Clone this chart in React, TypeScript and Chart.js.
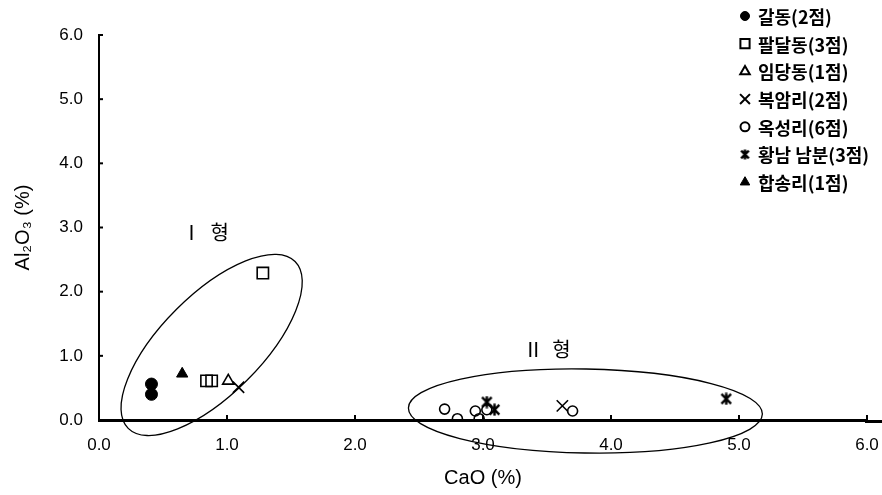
import React, { useEffect, useRef } from 'react';
import { Chart, registerables } from 'chart.js';
import { drawPoint } from 'chart.js/helpers';

Chart.register(...registerables);

// ---------- data ----------
const seriesNames = ['갈동(2점)', '팔달동(3점)', '임당동(1점)', '복암리(2점)', '옥성리(6점)', '황남 남분(3점)', '합송리(1점)'];

const galdongCaO = [0.41, 0.41];
const galdongAl2O3 = [0.56, 0.40];
const paldaldongCaO = [0.84, 0.88, 1.28];
const paldaldongAl2O3 = [0.61, 0.61, 2.29];
const imdangdongCaO = [1.01];
const imdangdongAl2O3 = [0.61];
const bogamriCaO = [1.09, 3.62];
const bogamriAl2O3 = [0.51, 0.22];
const oksungriCaO = [2.70, 2.80, 2.94, 2.97, 3.03, 3.70];
const oksungriAl2O3 = [0.17, 0.02, 0.14, 0.02, 0.16, 0.14];
const hwangnamCaO = [3.03, 3.09, 4.90];
const hwangnamAl2O3 = [0.28, 0.16, 0.33];
const hapsongriCaO = [0.65];
const hapsongriAl2O3 = [0.72];

const xTickValues = [0, 1, 2, 3, 4, 5, 6];
const yTickValues = [0, 1, 2, 3, 4, 5, 6];
const xTitle = 'CaO (%)';
const yTitle = 'Al₂O₃ (%)';

// group annotations (centres in data units)
const groupLabels = ['Ⅰ  형', 'Ⅱ  형'];
const groupLabelCaO = [0.83, 3.5];
const groupLabelAl2O3 = [2.92, 1.1];
const groupEllipseCaO = [0.88, 3.8];
const groupEllipseAl2O3 = [1.17, 0.14];

// ---------- styling ----------
const ellipseStyle = [
  { rx: 118, ry: 50, rot: -45 },
  { rx: 177, ry: 42, rot: 1 },
];

function makeAsterisk(size: number, lw: number) {
  const c = document.createElement('canvas');
  c.width = size;
  c.height = size;
  const g = c.getContext('2d')!;
  g.strokeStyle = '#000';
  g.lineWidth = lw;
  const m = lw / 2 + 0.5;
  g.beginPath();
  g.moveTo(m, m);
  g.lineTo(size - m, size - m);
  g.moveTo(size - m, m);
  g.lineTo(m, size - m);
  g.moveTo(size / 2, 0.5);
  g.lineTo(size / 2, size - 0.5);
  g.stroke();
  return c;
}

const toPts = (xs: number[], ys: number[]) => xs.map((x, i) => ({ x, y: ys[i] }));

export default function App() {
  const ref = useRef<HTMLCanvasElement>(null);

  useEffect(() => {
    const canvas = ref.current!;
    const star = makeAsterisk(13, 2.4);
    const starSmall = makeAsterisk(11, 2.4);

    const markers: any[] = [
      { pointStyle: 'circle', radius: 6, bg: '#000', bw: 1 },
      { pointStyle: 'rect', radius: 8, bg: 'rgba(0,0,0,0)', bw: 1.6 },
      { pointStyle: 'triangle', radius: 6.5, bg: 'rgba(0,0,0,0)', bw: 1.6 },
      { pointStyle: 'crossRot', radius: 8, bg: 'rgba(0,0,0,0)', bw: 1.6 },
      { pointStyle: 'circle', radius: 5, bg: 'rgba(0,0,0,0)', bw: 1.6 },
      { pointStyle: star, radius: 6, bg: 'rgba(0,0,0,0)', bw: 1.6 },
      { pointStyle: 'triangle', radius: 6.5, bg: '#000', bw: 1 },
    ];
    const legendMarkers: any[] = [
      { pointStyle: 'circle', radius: 4.5, bg: '#000', bw: 1 },
      { pointStyle: 'rect', radius: 6.5, bg: 'rgba(0,0,0,0)', bw: 2 },
      { pointStyle: 'triangle', radius: 5.5, bg: 'rgba(0,0,0,0)', bw: 2 },
      { pointStyle: 'crossRot', radius: 7, bg: 'rgba(0,0,0,0)', bw: 2 },
      { pointStyle: 'circle', radius: 4.5, bg: 'rgba(0,0,0,0)', bw: 2 },
      { pointStyle: starSmall, radius: 5, bg: 'rgba(0,0,0,0)', bw: 2 },
      { pointStyle: 'triangle', radius: 5.5, bg: '#000', bw: 1 },
    ];

    const seriesData = [
      toPts(galdongCaO, galdongAl2O3),
      toPts(paldaldongCaO, paldaldongAl2O3),
      toPts(imdangdongCaO, imdangdongAl2O3),
      toPts(bogamriCaO, bogamriAl2O3),
      toPts(oksungriCaO, oksungriAl2O3),
      toPts(hwangnamCaO, hwangnamAl2O3),
      toPts(hapsongriCaO, hapsongriAl2O3),
    ];

    const decor = {
      id: 'decor',
      afterDatasetsDraw(chart: any) {
        const ctx = chart.ctx as CanvasRenderingContext2D;
        const xs = chart.scales.x;
        const ys = chart.scales.y;
        ctx.save();
        ctx.strokeStyle = '#000';
        ctx.fillStyle = '#000';
        // x-axis line runs on past the last tick
        ctx.lineWidth = 3;
        ctx.beginPath();
        ctx.moveTo(xs.right - 2, ys.bottom + 1.5);
        ctx.lineTo(chart.width, ys.bottom + 1.5);
        ctx.stroke();
        // inward tick marks
        ctx.lineWidth = 2;
        xTickValues.forEach((v) => {
          const px = xs.getPixelForValue(v);
          ctx.beginPath();
          ctx.moveTo(px, ys.bottom);
          ctx.lineTo(px, ys.bottom - 5);
          ctx.stroke();
        });
        yTickValues.forEach((v) => {
          const py = ys.getPixelForValue(v);
          ctx.beginPath();
          ctx.moveTo(xs.left, py);
          ctx.lineTo(xs.left + 4, py);
          ctx.stroke();
        });
        // group ellipses
        ctx.lineWidth = 1.3;
        groupEllipseCaO.forEach((cx, i) => {
          const st = ellipseStyle[i];
          ctx.beginPath();
          ctx.ellipse(
            xs.getPixelForValue(cx),
            ys.getPixelForValue(groupEllipseAl2O3[i]),
            st.rx,
            st.ry,
            (st.rot * Math.PI) / 180,
            0,
            Math.PI * 2
          );
          ctx.stroke();
        });
        // group labels
        ctx.font = '20px "Noto Sans CJK KR", sans-serif';
        ctx.textAlign = 'center';
        ctx.textBaseline = 'middle';
        groupLabels.forEach((t, i) => {
          ctx.fillText(t, xs.getPixelForValue(groupLabelCaO[i]), ys.getPixelForValue(groupLabelAl2O3[i]));
        });
        // legend
        const lx = 745;
        const ly0 = 16;
        const dy = 27.7;
        ctx.font = 'bold 18px "Noto Sans CJK KR", sans-serif';
        ctx.textAlign = 'left';
        seriesNames.forEach((name, i) => {
          const m = legendMarkers[i];
          const y = ly0 + i * dy;
          ctx.fillStyle = m.bg;
          ctx.strokeStyle = '#000';
          ctx.lineWidth = m.bw;
          drawPoint(ctx, { pointStyle: m.pointStyle, radius: m.radius, rotation: 0, borderWidth: m.bw }, lx, y);
          ctx.fillStyle = '#000';
          ctx.fillText(name, lx + 13, y + 1);
        });
        ctx.restore();
      },
    };

    const axisFont = { family: '"Liberation Sans", Arial, sans-serif', size: 17 };
    const titleFont = { family: '"Liberation Sans", Arial, sans-serif', size: 20 };

    const chart = new Chart(canvas, {
      type: 'scatter',
      data: {
        datasets: seriesNames.map((name, i) => ({
          label: name,
          data: seriesData[i],
          pointStyle: markers[i].pointStyle,
          pointRadius: markers[i].radius,
          pointHoverRadius: markers[i].radius,
          pointBackgroundColor: markers[i].bg,
          pointBorderColor: '#000',
          pointBorderWidth: markers[i].bw,
          backgroundColor: markers[i].bg,
          borderColor: '#000',
        })),
      },
      options: {
        responsive: false,
        animation: false,
        devicePixelRatio: 1,
        layout: { padding: { left: 0, top: 35, right: 15, bottom: 0 } },
        plugins: {
          legend: { display: false },
          tooltip: { enabled: false },
        },
        scales: {
          x: {
            type: 'linear',
            min: 0,
            max: 6,
            afterFit: (s: any) => {
              s.height = 75;
              s.paddingRight = 0;
            },
            afterBuildTicks: (s: any) => {
              s.ticks = xTickValues.map((v) => ({ value: v }));
            },
            ticks: {
              color: '#000',
              padding: 15,
              font: axisFont,
              callback: (v: any) => Number(v).toFixed(1),
            },
            grid: { display: false, drawTicks: false },
            border: { display: true, color: '#000', width: 3 },
            title: {
              display: true,
              text: xTitle,
              color: '#000',
              font: titleFont,
              padding: { top: 0, bottom: 5 },
            },
          },
          y: {
            type: 'linear',
            min: 0,
            max: 6,
            afterFit: (s: any) => {
              s.width = 99;
            },
            afterBuildTicks: (s: any) => {
              s.ticks = yTickValues.map((v) => ({ value: v }));
            },
            ticks: {
              color: '#000',
              padding: 16,
              font: axisFont,
              callback: (v: any) => Number(v).toFixed(1),
            },
            grid: { display: false, drawTicks: false },
            border: { display: true, color: '#000', width: 2 },
            title: {
              display: true,
              text: yTitle,
              color: '#000',
              font: titleFont,
              padding: { top: 11, bottom: 0 },
            },
          },
        },
      },
      plugins: [decor],
    });
    return () => chart.destroy();
  }, []);

  return (
    <div style={{ position: 'fixed', left: 0, top: 0, width: 882, height: 495, background: '#fff' }}>
      <canvas ref={ref} width={882} height={495} style={{ display: 'block', width: 882, height: 495 }} />
    </div>
  );
}
